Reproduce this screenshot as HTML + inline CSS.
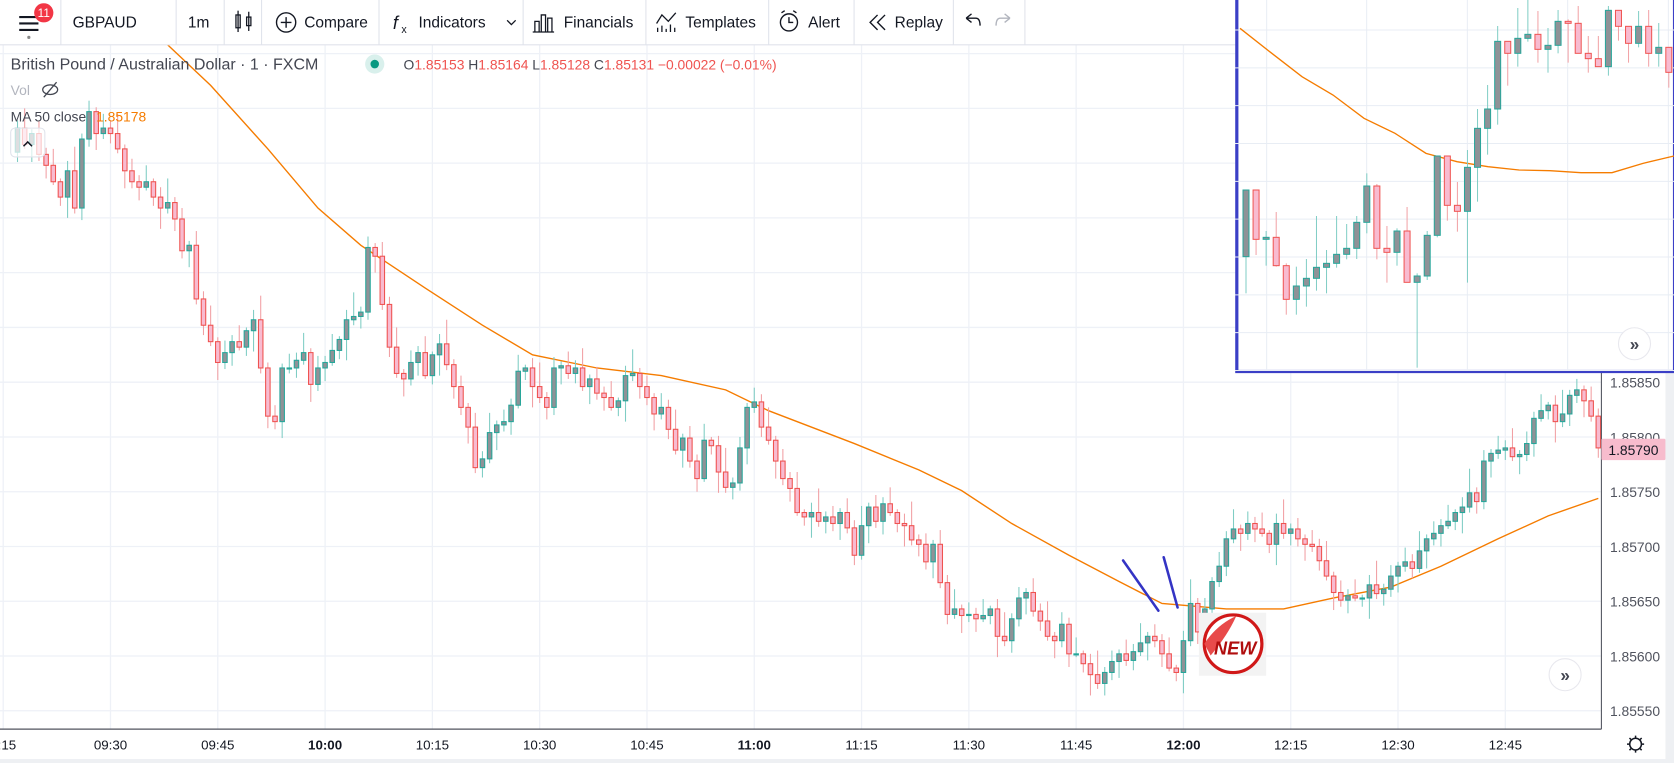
<!DOCTYPE html>
<html><head><meta charset="utf-8"><style>
html,body{margin:0;padding:0;background:#fff;overflow:hidden}
svg{display:block}
text{font-family:"Liberation Sans",sans-serif}
</style></head><body>
<svg id="chart" width="1674" height="763" viewBox="0 0 1568 714.7" preserveAspectRatio="none" xmlns="http://www.w3.org/2000/svg">
<rect x="0" y="0" width="1568" height="715" fill="#fff"/>
<g id="grid"></g>
<g id="ma"></g>
<g id="candles"></g>
<!-- annotation lines -->
<g stroke="#3434c4" stroke-width="2.4" stroke-linecap="round">
<line x1="1052" y1="525" x2="1085" y2="572"/><line x1="1090" y1="522" x2="1103" y2="569"/>
</g>
<!-- NEW sticker -->
<g>
<rect x="1123" y="574" width="63" height="59" fill="#f3f3f3"/>
<circle cx="1155" cy="603" r="27" fill="#fff" stroke="#d01818" stroke-width="3"/>
<path d="M1128 603 Q1140 585 1158 577 Q1150 595 1134 614 Z" fill="#e84a4a"/>
<text x="1157" y="613" font-size="17" font-weight="bold" fill="#b00e0e" text-anchor="middle" font-style="italic">NEW</text>
</g>
<!-- price axis -->
<rect x="1500" y="42" width="68" height="642" fill="#fff"/>
<line x1="1500" y1="0" x2="1500" y2="713" stroke="#50535e" stroke-width="1"/>
<g id="yaxis"></g>
<rect x="1500" y="411" width="60" height="20" rx="1" fill="#f7bccd"/>
<text x="1530" y="426" font-size="13" fill="#131722" text-anchor="middle">1.85790</text>
<!-- time axis -->
<rect x="0" y="683" width="1568" height="32" fill="#fff"/>
<line x1="0" y1="683" x2="1500" y2="683" stroke="#50535e" stroke-width="1.2"/>
<g id="xaxis"></g>
<g transform="translate(1532,697)" fill="none" stroke="#131722" stroke-width="1.4">
<circle r="5.5"/><path d="M0-8V-6M0 6V8M-8 0H-6M6 0H8M-5.7-5.7L-4.3-4.3M4.3 4.3L5.7 5.7M-5.7 5.7L-4.3 4.3M4.3-4.3L5.7-5.7"/>
</g>
<rect x="1560" y="0" width="8" height="715" fill="#eef0f3"/>
<rect x="0" y="711" width="1568" height="4" fill="#eef0f3"/>
<!-- scroll button -->
<g>
<circle cx="1466" cy="632" r="15" fill="#fff" stroke="#e8e8ee"/>
<text x="1466" y="638" font-size="16" font-weight="bold" fill="#434651" text-anchor="middle">»</text>
</g>
<!-- toolbar -->
<g>
<rect x="0" y="0" width="1568" height="42" fill="#fff"/>
<line x1="0" y1="42" x2="1160" y2="42" stroke="#e0e3eb"/>
<g stroke="#e0e3eb"><line x1="57" y1="0" x2="57" y2="42"/><line x1="165" y1="0" x2="165" y2="42"/><line x1="210" y1="0" x2="210" y2="42"/><line x1="245" y1="0" x2="245" y2="42"/><line x1="355" y1="0" x2="355" y2="42"/><line x1="490" y1="0" x2="490" y2="42"/><line x1="605" y1="0" x2="605" y2="42"/><line x1="720" y1="0" x2="720" y2="42"/><line x1="800" y1="0" x2="800" y2="42"/><line x1="893" y1="0" x2="893" y2="42"/><line x1="960" y1="0" x2="960" y2="42"/></g>
<g><path d="M18 16H36M18 22H36M18 28H36" stroke="#131722" stroke-width="2"/><circle cx="27" cy="35" r="1.5" fill="#888"/>
<circle cx="41" cy="12" r="9" fill="#f23645"/><text x="41" y="16" font-size="11" fill="#fff" text-anchor="middle">11</text></g>
<text x="68" y="26" font-size="14.5" fill="#131722">GBPAUD</text>
<text x="176" y="26" font-size="14.5" fill="#131722">1m</text>
<g stroke="#131722" stroke-width="1.2" fill="none"><rect x="221" y="14" width="4" height="12"/><line x1="223" y1="10" x2="223" y2="30"/><rect x="231" y="16" width="4" height="8"/><line x1="233" y1="11" x2="233" y2="29"/></g>
<g><circle cx="268" cy="21" r="9" fill="none" stroke="#131722" stroke-width="1.3"/><path d="M268 16V26M263 21H273" stroke="#131722" stroke-width="1.3"/><text x="285" y="26" font-size="14.5" fill="#131722">Compare</text></g>
<g><text x="368" y="27" font-size="17" font-style="italic" fill="#131722">f</text><text x="376" y="31" font-size="10" fill="#131722">x</text><text x="392" y="26" font-size="14.5" fill="#131722">Indicators</text><path d="M475 19L479 23L483 19" fill="none" stroke="#131722" stroke-width="1.2"/></g>
<g><path d="M501 30V20H505V30M507 30V14H511V30M513 30V17H517V30M499 30H519" fill="none" stroke="#131722" stroke-width="1.2"/><text x="528" y="26" font-size="14.5" fill="#131722">Financials</text></g>
<g><path d="M615 22L620 14L626 20L633 12M616 30V26M620 30V24M624 30V27M628 30V23M632 30V26" fill="none" stroke="#131722" stroke-width="1.2"/><text x="642" y="26" font-size="14.5" fill="#131722">Templates</text></g>
<g><circle cx="739" cy="21" r="8" fill="none" stroke="#131722" stroke-width="1.3"/><path d="M739 16V21H743M732 12L735 10M746 12L743 10" fill="none" stroke="#131722" stroke-width="1.3"/><text x="757" y="26" font-size="14.5" fill="#131722">Alert</text></g>
<g><path d="M822 14L815 21L822 28M829 14L822 21L829 28" fill="none" stroke="#131722" stroke-width="1.3"/><text x="838" y="26" font-size="14.5" fill="#131722">Replay</text></g>
<path d="M905 17L910 13M905 17L910 21M905 17H914Q918 17 918 24" fill="none" stroke="#131722" stroke-width="1.3"/>
<path d="M946 17L941 13M946 17L941 21M946 17H937Q933 17 933 24" fill="none" stroke="#b2b5be" stroke-width="1.3"/>
</g>
<!-- legend -->
<g>
<text x="10" y="65" font-size="15" fill="#434651">British Pound / Australian Dollar · 1 · FXCM</text>
<circle cx="351" cy="60" r="9" fill="#d9f0ec"/><circle cx="351" cy="60" r="4" fill="#089981"/>
<text x="378" y="65" font-size="13" fill="#ef5350"><tspan fill="#434651">O</tspan>1.85153 <tspan fill="#434651">H</tspan>1.85164 <tspan fill="#434651">L</tspan>1.85128 <tspan fill="#434651">C</tspan>1.85131 −0.00022 (−0.01%)</text>
<text x="10" y="89" font-size="13" fill="#b2b5be">Vol</text>
<g stroke="#434651" fill="none" stroke-width="1.2"><ellipse cx="47" cy="84" rx="7" ry="4.5"/><line x1="41" y1="91" x2="53" y2="77"/></g>
<text x="10" y="114" font-size="13" fill="#434651">MA 50 close</text>
<text x="90" y="114" font-size="13" fill="#f57c00">1.85178</text>
<g><rect x="10" y="120" width="32" height="27" rx="4" fill="rgba(255,255,255,0.7)" stroke="#e0e3eb"/><path d="M22 137L26 133L30 137" fill="none" stroke="#131722" stroke-width="1.4"/></g>
</g>
<!-- inset -->
<g>
<rect x="1158.5" y="-2" width="410" height="350" fill="#fff" stroke="#3b3fc6" stroke-width="3"/>
<g id="inset" transform="translate(1156.8,0) scale(0.31223)"></g>
<g><circle cx="1531" cy="322" r="15" fill="#fff" stroke="#e8e8ee"/><text x="1531" y="328" font-size="16" font-weight="bold" fill="#434651" text-anchor="middle">»</text></g>
</g>
</svg>
<script>
// ---- main chart data ----
const priceTicks = [1.8555,1.8560,1.8565,1.8570,1.8575,1.8580,1.8585];
const priceTickLabels = ["1.85550","1.85600","1.85650","1.85700","1.85750","1.85800","1.85850"];
const timeTicks = [0,15,30,45,60,75,90,105,120,135,150,165,180,195,210];
const timeTickLabels = ["9:15","09:30","09:45","10:00","10:15","10:30","10:45","11:00","11:15","11:30","11:45","12:00","12:15","12:30","12:45"];
const boldTimes = ["10:00","11:00","12:00"];
const firstCandleMinute = 2;
const closes = [
1.86082,1.86067,1.86077,1.86058,1.86048,1.86033,1.86019,1.86043,1.86009,1.86072,1.86097,1.86077,
1.86082,1.86077,1.86063,1.86043,1.86033,1.86028,1.86033,1.86019,1.86009,1.86014,1.85999,1.85970,
1.85975,1.85926,1.85902,1.85887,1.85868,1.85877,1.85887,1.85882,1.85897,1.85907,1.85863,1.85819,1.85814,
1.85863,1.85863,1.85870,1.85877,1.85848,1.85863,1.85868,1.85879,1.85889,1.85907,1.85910,1.85914,1.85973,
1.85965,1.85921,1.85882,1.85858,1.85853,1.85868,1.85877,1.85856,1.85875,1.85885,1.85866,1.85846,1.85827,
1.85809,1.85772,1.85780,1.85804,1.85811,1.85814,1.85829,1.85860,1.85863,1.85846,1.85836,1.85827,1.85863,
1.85865,1.85858,1.85863,1.85846,1.85853,1.85840,1.85836,1.85827,1.85833,1.85856,1.85858,1.85846,1.85836,1.85821,1.85827,
1.85807,1.85788,1.85799,1.85778,1.85762,1.85797,1.85792,1.85768,1.85754,1.85758,1.85790,1.85827,
1.85832,1.85809,1.85797,1.85778,1.85762,1.85753,1.85731,1.85727,1.85731,
1.85723,1.85727,1.85721,1.85731,1.85717,1.85692,1.85719,1.85736,1.85723,1.85739,1.85731,1.85721,
1.85719,1.85706,1.85702,1.85686,1.85702,1.85667,1.85638,1.85643,1.85637,
1.85638,1.85634,1.85637,1.85643,1.85618,1.85614,1.85634,1.85653,1.85658,1.85641,1.85632,1.85618,1.85614,1.85629,1.85602,
1.85602,1.85593,1.85583,1.85575,1.85585,1.85595,1.85602,1.85596,1.85604,1.85612,1.85618,1.85614,1.85602,1.85589,1.85585,1.85614,
1.85648,1.85622,1.85643,1.85668,1.85682,1.85707,1.85716,1.85712,1.85721,1.85716,1.85712,1.85702,1.85721,1.85712,1.85716,1.85707,1.85702,1.85700,1.85687,1.85673,
1.85658,1.85651,1.85655,1.85653,1.85653,1.85665,1.85657,1.85661,1.85673,
1.85682,1.85686,1.85680,1.85696,1.85707,1.85712,1.85719,1.85723,1.85731,1.85736,1.85749,1.85741,
1.85778,1.85785,1.85788,1.85790,1.85782,1.85784,1.85794,1.85817,1.85824,1.85829,1.85814,1.85821,1.85838,1.85843,1.85833,1.85819,1.85790];
const firstOpen = 1.86060;
const upperWicks = [0.00007,0.00018,0.00004,0.00011,0.00006,0.00015,0.00003,0.00009,0.00022,0.00005,0.00010,0.00004,0.00013];
const lowerWicks = [0.00009,0.00004,0.00016,0.00006,0.00012,0.00003,0.00008,0.00019,0.00005,0.00011,0.00007,0.00015,0.00005];
const maMinutes = [23,29,37,44,50,59,67,74,83,92,101,107,119,128,134,141,149,156,162,171,179,186,194,201,209,216,223];
const maValues = [1.86158,1.86121,1.86063,1.86009,1.85975,1.85936,1.85902,1.85875,1.85863,1.85856,1.85843,1.85824,1.85794,1.85770,1.85751,1.85721,1.85692,1.85668,1.85648,1.85643,1.85643,1.85653,1.85663,1.85682,1.85707,1.85728,1.85744];
// ---- inset data (inset price units) ----
const insetOpen =  [330,530,382,388,303,202,242,265,298,310,337,355,433,542,355,343,407,253,272,394,632,484,466,598,715,773,976,940,985,997,952,964,1036,1030,940,924,900,1069,1021,970,1021,940,958];
const insetClose = [530,382,388,303,202,242,265,298,310,337,355,433,542,355,343,407,253,272,394,632,484,466,598,715,773,976,940,985,997,952,964,1036,1030,940,924,900,1069,1021,970,1021,940,958,883];
const insetHigh =  [530,530,407,464,310,300,323,452,350,452,428,452,580,548,422,415,479,280,407,632,632,554,650,773,845,1022,976,1076,1100,1067,1016,1070,1042,1082,992,992,1082,1069,1021,1067,1070,1031,958];
const insetLow =   [220,335,303,300,156,156,180,228,220,297,322,323,400,322,252,303,253,-3,260,388,438,405,252,495,636,726,843,900,975,912,882,940,912,940,882,900,873,978,912,958,900,900,837];
const insetMA = [1015,942,870,815,745,700,640,615,600,590,588,582,582,610,632];
// ---- scales ----
const X0 = 3, PX_PER_MIN = 6.7;
const Y_REF = 1.8585, Y_AT_REF = 358, PX_PER_UNIT = 51.3/0.0005;
function xScale(m){return X0 + m*PX_PER_MIN;}
function yScale(p){return Y_AT_REF + (Y_REF - p)*PX_PER_UNIT;}
const insetX0 = 33, insetStep = 30.2;
function insetXScale(i){return insetX0 + i*insetStep;}
function insetYScale(v){return 1100 - v;}
const NS="http://www.w3.org/2000/svg";
function mk(tag,attrs,parent){const e=document.createElementNS(NS,tag);for(const k in attrs)e.setAttribute(k,attrs[k]);parent.appendChild(e);return e;}
// grid
const grid=document.getElementById('grid');
for(let k=-7;k<priceTicks.length;k++){
  const y = k<0 ? yScale(priceTicks[priceTicks.length-1]) - 51.3*(-k) : yScale(priceTicks[k]);
  const l=mk('line',{x1:0,x2:1500,y1:y,y2:y,stroke:'#eef1f7','stroke-width':1.2},grid);
  
  
}
timeTicks.forEach(function(m){
  const x=xScale(m);
  const l=mk('line',{x1:x,x2:x,y1:42,y2:683,stroke:'#eef1f7','stroke-width':1.2},grid);
  
  
});
// y axis labels
const yaxis=document.getElementById('yaxis');
priceTicks.forEach(function(p,i){
  const t=mk('text',{x:1508,y:yScale(p)+5,'font-size':13,fill:'#50535e'},yaxis);
  t.textContent=priceTickLabels[i];
  
  
});
// x axis labels
const xaxis=document.getElementById('xaxis');
timeTicks.forEach(function(m,i){
  const lab=timeTickLabels[i];
  const t=mk('text',{x:xScale(m),y:702,'font-size':12.5,fill:'#131722','text-anchor':'middle','font-weight':boldTimes.indexOf(lab)>=0?'bold':'normal'},xaxis);
  t.textContent=lab;
  
  
});
// MA
const maG=document.getElementById('ma');
let d='';
maMinutes.forEach(function(m,i){d+=(i?'L':'M')+xScale(m).toFixed(1)+' '+yScale(maValues[i]).toFixed(1);});
const maPath=mk('path',{d:d,fill:'none',stroke:'#f57c00','stroke-width':1.3},maG);


// candles
function drawCandle(g,x,o,c,h,l,bw,sy,sw){
  const up=c>=o;
  const col=up?'#26a69a':'#ef5350';
  const w=mk('line',{x1:x,x2:x,y1:sy(h),y2:sy(l),stroke:up?'#7fcdc4':'#f1a0a4','stroke-width':sw},g);
  
  
  const top=Math.min(sy(o),sy(c)),bot=Math.max(sy(o),sy(c));
  const b=mk('rect',{x:x-bw/2,y:top,width:bw,height:Math.max(bot-top,1),fill:up?'#8f9297':'#f8bbd0',stroke:col,'stroke-width':sw},g);
  
  
}
const cg=document.getElementById('candles');
closes.forEach(function(c,i){
  const o=i===0?firstOpen:closes[i-1];
  const h=Math.max(o,c)+upperWicks[i%upperWicks.length];
  const l=Math.min(o,c)-lowerWicks[i%lowerWicks.length];
  const x=xScale(firstCandleMinute+i);
  drawCandle(cg,x,o,c,h,l,4.2,yScale,1);
});
// inset
const ig=document.getElementById('inset');
for(let k=0;k<10;k++){
  const l=mk('line',{x1:0,x2:1320,y1:90+k*113.5,y2:90+k*113.5,stroke:'#e8edf4','stroke-width':3},ig);
  
  
}
[95,395,697,998,1300].forEach(function(x){
  const l=mk('line',{x1:x,x2:x,y1:0,y2:1110,stroke:'#e8edf4','stroke-width':3},ig);
  
  
});
let di='';
insetMA.forEach(function(v,i){di+=(i?'L':'M')+(15+i*93).toFixed(1)+' '+insetYScale(v).toFixed(1);});
const imp=mk('path',{d:di,fill:'none',stroke:'#f57c00','stroke-width':4},ig);


insetOpen.forEach(function(o,i){
  drawCandle(ig,insetXScale(i),o,insetClose[i],insetHigh[i],insetLow[i],18,insetYScale,3);
});
</script>
</body></html>
